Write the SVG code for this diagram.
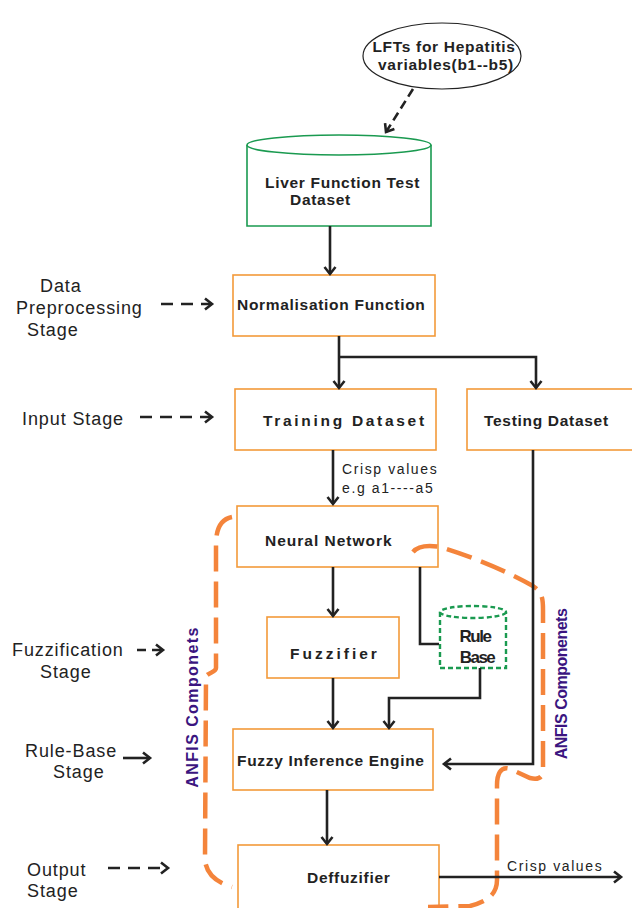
<svg xmlns="http://www.w3.org/2000/svg" width="632" height="908" viewBox="0 0 632 908">
<style>
.box{fill:#fff;stroke:#f39a3a;stroke-width:1.6}
.bt{font-family:"Liberation Sans",Arial,sans-serif;font-weight:bold;font-size:15.5px;fill:#222;letter-spacing:0.7px}
.lt{font-family:"Liberation Sans",Arial,sans-serif;font-size:18px;fill:#222;letter-spacing:0.9px}
.st{font-family:"Liberation Sans",Arial,sans-serif;font-size:14px;fill:#222;letter-spacing:1.6px}
.ln{fill:none;stroke:#222;stroke-width:2.6}
.dl{fill:none;stroke:#222;stroke-width:2.6;stroke-dasharray:12,7}
.anfis{fill:none;stroke:#f4843b;stroke-width:4.5;stroke-dasharray:26,10}
.pt{font-family:"Liberation Sans",Arial,sans-serif;font-weight:bold;font-size:16px;fill:#3b1580}
</style>
<defs>
<marker id="ah" markerWidth="14" markerHeight="14" refX="10" refY="7" orient="auto" markerUnits="userSpaceOnUse">
<polyline points="3,1.5 10,7 3,12.5" fill="none" stroke="#222" stroke-width="2.6"/>
</marker>
</defs>
<rect width="632" height="908" fill="#fff"/>

<g id="lfts">
<ellipse cx="442" cy="56" rx="79" ry="33" fill="#fff" stroke="#222" stroke-width="1.2"/>
<text class="bt" x="444" y="52" text-anchor="middle">LFTs for Hepatitis</text>
<text class="bt" x="446" y="70" text-anchor="middle">variables(b1--b5)</text>
</g>

<g id="liver">
<path d="M247,145 L247,226 L431,226 L431,145" fill="#fff" stroke="#1a9a50" stroke-width="1.6"/>
<ellipse cx="339" cy="145" rx="92" ry="10" fill="#fff" stroke="#1a9a50" stroke-width="1.6"/>
<text class="bt" x="265" y="188">Liver Function Test</text>
<text class="bt" x="290" y="205">Dataset</text>
</g>

<g id="normalisation">
<rect class="box" x="233" y="275" width="202" height="61"/>
<text class="bt" x="237" y="310">Normalisation Function</text>
</g>

<g id="training">
<rect class="box" x="235" y="389" width="201" height="61"/>
<text class="bt" x="263" y="426" style="letter-spacing:2.7px">Training Dataset</text>
</g>

<g id="testing">
<rect class="box" x="467" y="389" width="170" height="61"/>
<text class="bt" x="484" y="426">Testing Dataset</text>
</g>

<g id="neural">
<rect class="box" x="237" y="506" width="201" height="61"/>
<text class="bt" x="265" y="546" style="letter-spacing:1px">Neural Network</text>
</g>

<g id="fuzzifier">
<rect class="box" x="267" y="617" width="132" height="61"/>
<text class="bt" x="290" y="659" style="letter-spacing:3px">Fuzzifier</text>
</g>

<g id="rulebase">
<path d="M440,612 L440,668 L506,668 L506,612" fill="#fff" stroke="#1a9a50" stroke-width="2.4" stroke-dasharray="5,3"/>
<ellipse cx="473" cy="612" rx="33" ry="6" fill="#fff" stroke="#1a9a50" stroke-width="2.4" stroke-dasharray="5,3"/>
<text class="bt" x="475" y="642" text-anchor="middle" style="font-size:17px;letter-spacing:-1.5px">Rule</text>
<text class="bt" x="477" y="663" text-anchor="middle" style="font-size:17px;letter-spacing:-1.5px">Base</text>
</g>

<g id="inference">
<rect class="box" x="233" y="729" width="200" height="61"/>
<text class="bt" x="237" y="766">Fuzzy Inference Engine</text>
</g>

<g id="defuzzifier">
<rect class="box" x="238" y="845" width="201" height="66"/>
<text class="bt" x="307" y="883">Deffuzifier</text>
</g>

<g id="stages">
<text class="lt" x="40" y="292">Data</text>
<text class="lt" x="16" y="314">Preprocessing</text>
<text class="lt" x="27" y="336">Stage</text>
<text class="lt" x="22" y="425">Input Stage</text>
<text class="lt" x="12" y="656">Fuzzification</text>
<text class="lt" x="40" y="678">Stage</text>
<text class="lt" x="25" y="757">Rule-Base</text>
<text class="lt" x="53" y="778">Stage</text>
<text class="lt" x="27" y="876">Output</text>
<text class="lt" x="27" y="897">Stage</text>
</g>

<g id="anfis">
<path class="anfis" d="M232,517 C222,519 216,526 216,545 L216,668 C216,672 210,672 206,676 L205,858 C205,872 215,882 232,887"/>
<path class="anfis" d="M413,552 C418,546 428,545 440,547 C470,556 505,570 533,586 C542,592 543,598 543,610 L543,770 C543,778 538,780 530,778 L510,769 C502,766 497,772 497,785 L497,880 C497,895 486,902 470,906 L428,907"/>
<text class="pt" transform="translate(198,707) rotate(-90)" text-anchor="middle" style="letter-spacing:1.4px">ANFIS Componets</text>
<text class="pt" transform="translate(567,684) rotate(-90)" text-anchor="middle" style="letter-spacing:-0.5px">ANFIS Componenets</text>
</g>

<g id="connectors">
<line class="dl" x1="413" y1="89" x2="386" y2="132" marker-end="url(#ah)" style="stroke-dasharray:9,5"/>
<line class="ln" x1="330" y1="226" x2="330" y2="274" marker-end="url(#ah)"/>
<line class="ln" x1="339" y1="336" x2="339" y2="388" marker-end="url(#ah)"/>
<polyline class="ln" points="339,357 536,357 536,388" marker-end="url(#ah)"/>
<line class="ln" x1="333" y1="450" x2="333" y2="504" marker-end="url(#ah)"/>
<text class="st" x="342" y="474">Crisp values</text>
<text class="st" x="342" y="493">e.g a1----a5</text>
<line class="ln" x1="333" y1="567" x2="333" y2="616" marker-end="url(#ah)"/>
<polyline class="ln" points="420,567 420,644 439,644"/>
<line class="ln" x1="333" y1="678" x2="333" y2="728" marker-end="url(#ah)"/>
<polyline class="ln" points="480,668 480,698 389,698 389,728" marker-end="url(#ah)"/>
<polyline class="ln" points="533,450 533,764 444,764" marker-end="url(#ah)"/>
<line class="ln" x1="327" y1="790" x2="327" y2="844" marker-end="url(#ah)"/>
<line class="ln" x1="439" y1="877" x2="621" y2="877" marker-end="url(#ah)"/>
<text class="st" x="507" y="871">Crisp values</text>
<line class="dl" x1="161" y1="304" x2="212" y2="304" marker-end="url(#ah)" style="stroke-dasharray:12,8"/>
<line class="dl" x1="140" y1="417" x2="212" y2="417" marker-end="url(#ah)" style="stroke-dasharray:12,8"/>
<line class="dl" x1="137" y1="650" x2="163" y2="650" marker-end="url(#ah)" style="stroke-dasharray:9,6"/>
<line class="ln" x1="123" y1="758" x2="150" y2="758" marker-end="url(#ah)"/>
<line class="dl" x1="108" y1="868" x2="168" y2="868" marker-end="url(#ah)" style="stroke-dasharray:12,8"/>
</g>
</svg>
